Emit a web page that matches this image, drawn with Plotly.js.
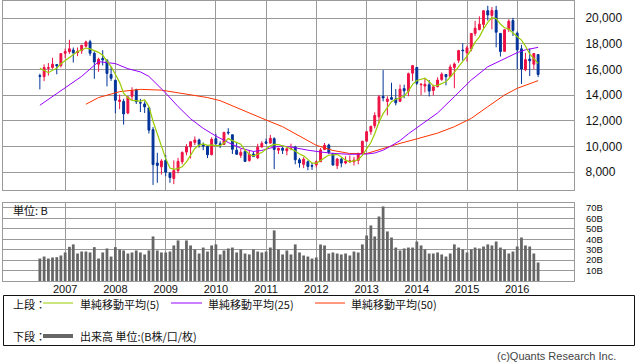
<!DOCTYPE html>
<html>
<head>
<meta charset="utf-8">
<script src="https://cdn.plot.ly/plotly-3.0.1.min.js"></script>
<style>
  html, body { margin: 0; padding: 0; background: #fff; }
  #chart { width: 638px; height: 362px; }
</style>
</head>
<body>
<div id="chart"></div>
<script>
// ---- Monthly candles, Jul 2006 .. Jun 2016 ----
const startYear = 2006, startMonth = 7, monthCount = 120;
const months = [];
for (let k = 0; k < monthCount; k++) {
  const y = startYear + Math.floor((startMonth - 1 + k) / 12);
  const m = (startMonth - 1 + k) % 12 + 1;
  months.push(y + '-' + String(m).padStart(2, '0') + '-01');
}

const openPrices = [
  15505,15430,16080,16150,16370,16300,
  17250,17380,17500,17300,17450,17800,18150,17250,16400,16850,16700,15600,
  15156,13500,13500,12600,13900,14400,13400,13300,13000,11300,8700,8400,
  8900,7900,7500,8100,8800,9550,9950,10300,10500,10100,10000,9350,
  10600,10200,10150,11100,10900,9700,9300,9600,8900,9400,9100,9950,
  10350,10250,10600,9700,9850,9650,9800,9950,8950,8600,8800,8500,
  8550,8800,9750,10100,9400,8500,9000,8700,8800,8800,8900,9450,
  10400,11150,11600,12300,13900,13500,13800,13700,13500,14500,14300,15700,
  16147,14800,14700,14800,14350,14650,15200,15600,15450,16150,16700,17500,
  17300,17600,18800,19100,19500,20570,20200,20600,18800,17400,19100,19800,
  18818,17600,15970,16800,16400,17150
];
const highPrices = [
  15660,16385,16490,16902,16410,17240,
  17617,18300,17700,17700,17900,18240,18297,17400,16900,17488,16800,16200,
  15156,14031,13700,13900,14601,14489,13700,13500,13000,11500,9500,9000,
  9325,8000,8900,9100,9600,10170,10400,10767,10600,10300,10100,10700,
  10982,10400,11100,11408,10900,10251,9800,9700,9700,9600,10200,10400,
  10600,10891,10700,9900,10017,9900,10207,10040,9100,9150,8900,8700,
  8900,9866,10255,10200,9500,9100,9100,9222,9288,9180,9500,10433,
  11200,11600,12650,14000,15942,13900,14953,14466,14817,14800,15749,16320,
  16164,14900,15300,15165,14800,15376,15759,15600,16374,16533,17520,18030,
  17850,18800,19778,20133,20600,20953,20850,20946,18800,19100,19900,20012,
  18951,17905,17291,17613,17251,17180
];
const lowPrices = [
  14437,15080,15513,16041,15615,16141,
  16880,17205,16532,17028,17200,17700,17050,15262,15800,16300,14669,15100,
  12573,12900,11691,12500,13600,13300,12671,12600,11000,6994,7160,7800,
  7670,7160,7054,7900,8600,9300,9050,10100,9900,9700,9081,9300,
  10150,9867,10100,10900,9400,9351,9100,8796,8800,9200,9000,9900,
  10200,10200,8227,9400,9400,9300,9700,8600,8343,8300,8135,8160,
  8349,8800,9700,9400,8500,8238,8365,8600,8700,8500,8600,9400,
  10400,10900,11400,11800,13500,12415,13600,13188,13500,13748,13900,15100,
  14777,13995,14203,13885,13964,14600,15100,14753,15400,14529,16500,16672,
  16592,17400,18600,19034,19200,19800,19115,17714,17000,17400,18900,18600,
  16017,14865,15857,15471,16000,15395
];
const closePrices = [
  15457,16140,16128,16399,16274,17226,
  17383,17604,17288,17400,17876,18138,17249,16569,16786,16738,15681,15308,
  13592,13604,12526,13850,14339,13481,13377,13073,11260,8577,8512,8860,
  7994,7568,8110,8828,9523,9958,10357,10493,10133,10034,9346,10546,
  10198,10126,11090,11057,9769,9383,9537,8824,9369,9202,9937,10229,
  10238,10624,9755,9850,9694,9816,9833,8955,8700,8988,8435,8455,
  8803,9723,10084,9521,8543,9007,8695,8840,8870,8928,9446,10395,
  11139,11559,12398,13861,13774,13677,13668,13389,14456,14328,15662,16291,
  14915,14841,14828,14304,14632,15162,15621,15425,16174,16414,17460,17451,
  17674,18798,19207,19520,20563,20236,20585,18890,17388,19083,19747,19034,
  17518,16027,16759,16666,17235,15600
];

// Volume (billions)
const volumeB = [
  21.5,23.4,21.5,22.5,22.8,24.4,27.3,32.7,35,26.3,
  28.2,28.2,27.3,32.4,21.5,27.3,31.1,23.4,32.4,30.2,
  29.2,26.3,27.3,29.2,27.3,25.4,29.2,42.6,29.2,27.3,
  27.3,28.2,34,38.8,30.2,38.8,34,30.2,26.3,32,
  28.2,34,35,25.4,29.2,31.1,32,27.3,30.2,26.3,
  25.4,30.2,28.2,27.3,28.2,32,48.4,30.2,25.4,29.2,
  25.4,35,27.3,24.4,23.4,21.5,22.5,34.9,34,26.3,
  27.3,26.3,25.4,26.3,24.4,28.2,27.3,35,43.5,53.1,
  42.6,61.7,71.3,47.4,41.6,32,29.2,31.1,32,32,
  37.8,34,30.2,26.3,26.3,27.3,25.4,23.4,26.3,35,
  32,30.2,27.3,30.2,32,31.1,33,35,34,37.8,
  32,30.2,26.3,28.2,33,41.6,34,33,26.3,17.7
];

// 5-month simple moving average (values per month)
const ma5 = [
  16079,15895,15739,15926,16080,16433,16682,16977,17155,17380,17510,17661,
  17590,17446,17324,17096,16605,16216,15621,14985,14142,13776,13582,13560,
  13515,13624,13106,11954,10960,10056,9041,8302,8209,8272,8405,8797,
  9355,9832,10093,10195,10073,10110,10051,10050,10261,10603,10448,10285,
  10167,9714,9376,9263,9374,9512,9795,10046,10157,10139,10032,9948,
  9790,9630,9400,9258,8982,8707,8676,8881,9100,9317,9335,9376,
  9170,8921,8791,8868,8956,9296,9756,10293,10987,11870,12546,13054,
  13476,13674,13793,13904,14301,14825,15130,15207,15307,15036,14704,14753,
  14909,15029,15403,15759,16219,16585,17035,17559,18118,18530,19152,19665,
  20022,19959,19532,19236,19139,18828,18554,18282,17817,17201,16841,16457
];

// 25-month moving average, read at these months
const ma25Months = ['2006-07-01','2006-12-01','2007-05-01','2007-09-01','2008-01-01','2008-04-01',
  '2008-07-01','2008-09-01','2008-11-01','2009-01-01','2009-04-01','2009-07-01','2009-10-01',
  '2010-01-01','2010-04-01','2010-07-01','2010-10-01','2010-12-01','2011-03-01','2011-05-01',
  '2011-07-01','2011-09-01','2011-11-01','2012-02-01','2012-05-01','2012-09-01','2013-01-01',
  '2013-03-01','2013-05-01','2013-07-01','2013-09-01','2013-11-01','2014-01-01','2014-03-01',
  '2014-06-01','2014-10-01','2015-02-01','2015-06-01','2015-10-01','2016-01-01','2016-03-01','2016-06-01'];
const ma25 = [13200,14300,15450,16600,16450,16050,
  15800,15450,14800,14150,13100,12150,11400,
  10800,10300,9850,9600,9680,9950,10020,
  9950,9820,9700,9560,9450,9380,9400,
  9480,9700,10050,10450,10980,11450,11850,
  12600,13870,15170,16200,16860,17300,17520,17710];

// 50-month moving average, read at these months
const ma50Months = ['2007-06-01','2007-09-01','2008-02-01','2008-07-01','2008-12-01','2009-06-01',
  '2009-11-01','2010-02-01','2010-05-01','2010-09-01','2011-01-01','2011-05-01','2011-09-01',
  '2012-01-01','2012-05-01','2012-09-01','2013-01-01','2013-05-01','2013-09-01','2014-01-01',
  '2014-06-01','2014-10-01','2015-02-01','2015-06-01','2015-10-01','2016-01-01','2016-03-01','2016-06-01'];
const ma50 = [13280,13800,14260,14440,14380,14050,
  13800,13560,13150,12570,12050,11530,10800,
  10080,9680,9440,9440,9850,10230,10580,
  11030,11530,12180,13090,14000,14520,14780,15120];

const yearTickVals = ['2007-01-01','2008-01-01','2009-01-01','2010-01-01','2011-01-01',
  '2012-01-01','2013-01-01','2014-01-01','2015-01-01','2016-01-01'];
const yearTickText = ['2007','2008','2009','2010','2011','2012','2013','2014','2015','2016'];
const priceTicks = [8000,10000,12000,14000,16000,18000,20000];
const volumeTicks = [10,20,30,40,50,60,70];
const volumeTickText = ['10B','20B','30B','40B','50B','60B','70B'];

// ---- layout helpers (pixel -> paper) ----
const W = 638, H = 362, ML = 3, MR = 64, MT = 1, MB = 81;
const PW = W - ML - MR, PH = H - MT - MB;
const px = x => (x - ML) / PW;
const py = y => (H - MB - y) / PH;

const RED = '#ee1144', BLUE = '#003399';
const GRID = '#9a9a9a';
const CJK = 'Noto Sans CJK JP, Liberation Sans, sans-serif';

const traces = [
  {
    type: 'bar', x: months, y: volumeB, xaxis: 'x', yaxis: 'y',
    marker: { color: '#666666', line: { width: 0 } },
    hoverinfo: 'skip', showlegend: false
  },
  {
    type: 'candlestick', x: months, open: openPrices, high: highPrices,
    low: lowPrices, close: closePrices, xaxis: 'x2', yaxis: 'y2',
    increasing: { line: { color: RED, width: 1 }, fillcolor: RED },
    decreasing: { line: { color: BLUE, width: 1 }, fillcolor: BLUE },
    whiskerwidth: 0, hoverinfo: 'skip', showlegend: false
  },
  {
    type: 'scatter', mode: 'lines', x: ma50Months, y: ma50, xaxis: 'x2', yaxis: 'y2',
    line: { color: '#ff3300', width: 1 }, hoverinfo: 'skip', showlegend: false
  },
  {
    type: 'scatter', mode: 'lines', x: ma25Months, y: ma25, xaxis: 'x2', yaxis: 'y2',
    line: { color: '#9900ff', width: 1 }, hoverinfo: 'skip', showlegend: false
  },
  {
    type: 'scatter', mode: 'lines', x: months, y: ma5, xaxis: 'x2', yaxis: 'y2',
    line: { color: '#99cc00', width: 1.2 }, hoverinfo: 'skip', showlegend: false
  }
];

const xRange = ['2005-10-06', '2017-02-17'];
const axisCommon = {
  showgrid: true, gridcolor: GRID, gridwidth: 1, zeroline: false,
  showline: true, mirror: true, linecolor: GRID, linewidth: 1
};

const legendY1 = 304, legendY2 = 336;
const shapes = [
  { type: 'rect', xref: 'paper', yref: 'paper', x0: px(3.5), x1: px(634.5), y0: py(295.5), y1: py(345.5),
    line: { color: '#111', width: 1 }, fillcolor: 'rgba(0,0,0,0)' },
  { type: 'line', xref: 'paper', yref: 'paper', x0: px(43), x1: px(73), y0: py(legendY1 - 1), y1: py(legendY1 - 1),
    line: { color: '#99cc00', width: 1 } },
  { type: 'line', xref: 'paper', yref: 'paper', x0: px(171), x1: px(202), y0: py(legendY1 - 1), y1: py(legendY1 - 1),
    line: { color: '#9900ff', width: 1 } },
  { type: 'line', xref: 'paper', yref: 'paper', x0: px(315), x1: px(345), y0: py(legendY1 - 1), y1: py(legendY1 - 1),
    line: { color: '#ff3300', width: 1 } },
  { type: 'line', xref: 'paper', yref: 'paper', x0: px(43), x1: px(73), y0: py(legendY2), y1: py(legendY2),
    line: { color: '#666666', width: 4 } }
];

const ann = (text, x, y, opts) => Object.assign({
  text: text, xref: 'paper', yref: 'paper', x: px(x), y: py(y),
  xanchor: 'left', yanchor: 'middle', showarrow: false,
  font: { family: CJK, size: 11, color: '#111' }
}, opts || {});

const annotations = [
  ann('単位: B', 11, 210),
  ann('上段：', 11, legendY1),
  ann('単純移動平均(5)', 78, legendY1),
  ann('単純移動平均(25)', 206, legendY1),
  ann('単純移動平均(50)', 349, legendY1),
  ann('下段：', 11, legendY2),
  ann('出来高 単位:(B株/口/枚)', 78, legendY2),
  ann('(c)Quants Research Inc.', 618, 356, { xanchor: 'right', font: { family: 'Liberation Sans, sans-serif', size: 11, color: '#444' } })
];

const layout = {
  width: W, height: H,
  margin: { l: ML, r: MR, t: MT, b: MB, pad: 0 },
  paper_bgcolor: '#ffffff', plot_bgcolor: '#ffffff',
  font: { family: 'Liberation Sans, sans-serif', size: 11, color: '#111' },
  showlegend: false,
  bargap: 0.28, boxgap: 0.3,
  xaxis: Object.assign({}, axisCommon, {
    type: 'date', anchor: 'y', domain: [0, 1], range: xRange,
    tickmode: 'array', tickvals: yearTickVals, ticktext: yearTickText,
    ticks: '', ticklabelstandoff: -2, tickfont: { size: 11, color: '#111' }
  }),
  xaxis2: Object.assign({}, axisCommon, {
    type: 'date', anchor: 'y2', matches: 'x', range: xRange,
    tickmode: 'array', tickvals: yearTickVals, showticklabels: false, ticks: '',
    rangeslider: { visible: false }
  }),
  yaxis: Object.assign({}, axisCommon, {
    domain: [0, py(203)], range: [0, 74.6], side: 'right',
    tickmode: 'array', tickvals: volumeTicks, ticktext: volumeTickText,
    ticks: 'outside', ticklen: 9, tickcolor: 'rgba(0,0,0,0)',
    tickfont: { size: 9.5, color: '#111' }, fixedrange: true
  }),
  yaxis2: Object.assign({}, axisCommon, {
    domain: [py(190), 1], range: [6597, 21325], side: 'right',
    tickmode: 'array', tickvals: priceTicks, tickformat: ',d',
    ticks: 'outside', ticklen: 8, tickcolor: 'rgba(0,0,0,0)',
    tickfont: { size: 12, color: '#111' }, fixedrange: true
  }),
  shapes: shapes,
  annotations: annotations
};

Plotly.newPlot('chart', traces, layout, { displayModeBar: false, staticPlot: true });
</script>
</body>
</html>
